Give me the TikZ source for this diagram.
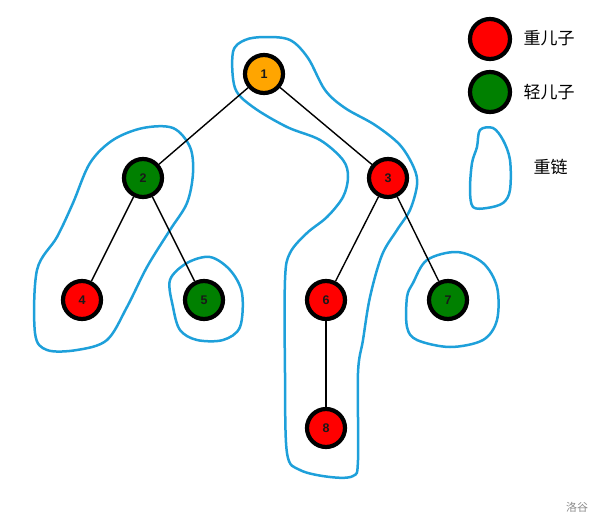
\documentclass[tikz,border=0pt]{standalone}
\usepackage{fontspec}
\setsansfont{Liberation Sans}
\newfontfamily\cjk{Noto Sans CJK SC}
\definecolor{chainblue}{RGB}{30,160,218}
\definecolor{rootorange}{RGB}{255,165,0}
\definecolor{heavyred}{RGB}{255,0,0}
\definecolor{lightgreen}{RGB}{0,128,0}
\begin{document}
\begin{tikzpicture}[x=1pt,y=-1pt,
  tnode/.style={circle,draw=black,line width=4.2pt,minimum size=38pt,inner sep=0pt,
    font=\sffamily\bfseries\fontsize{12.5}{12.5}\selectfont,text=black!90},
  heavy/.style={tnode,fill=heavyred},
  light/.style={tnode,fill=lightgreen},
  rootn/.style={tnode,fill=rootorange},
  edge/.style={line width=1.4pt,black},
  chain/.style={draw=chainblue,line width=2.5pt,line join=round},
  lbl/.style={font=\cjk\fontsize{17}{17}\selectfont,text=black}]
\useasboundingbox (0,0) rectangle (605,528);
% chains
\draw[chain] plot[smooth cycle,tension=0.55] coordinates {(233,52) (245,40) (265,37) (290,40) (308,58) (325,90) (345,108) (375,125) (400,145) (414,168) (417,185) (410,210) (397,230) (382,255) (370,297) (363,340) (358,373) (358,460) (353,476) (330,477) (300,470) (287,453) (285,373) (285,280) (290,253) (307,233) (327,217) (343,197) (348,177) (343,160) (320,140) (287,127) (253,107) (235,88)};
\draw[chain] plot[smooth cycle,tension=0.55] coordinates {(143,128) (173,128) (190,147) (193,173) (187,203) (170,230) (147,267) (127,307) (107,340) (77,350) (47,350) (35,333) (37,270) (57,237) (73,203) (90,163) (113,140)};
\draw[chain] plot[smooth cycle,tension=0.55] coordinates {(170,280) (187,263) (210,257) (230,270) (242,293) (240,327) (223,340) (197,340) (180,330) (173,307)};
\draw[chain] plot[smooth cycle,tension=0.55] coordinates {(413,283) (427,260) (457,252) (483,263) (497,287) (497,320) (483,340) (450,347) (417,340) (407,327) (407,297)};
\draw[chain] plot[smooth cycle,tension=0.55] coordinates {(480,130) (493,128) (503,140) (510,160) (510,190) (503,203) (487,208) (473,207) (470,190) (472,163) (477,147)};
% nodes
\node[rootn] (n1) at (264,74) {1};
\node[light] (n2) at (143,178) {2};
\node[heavy] (n3) at (388,178) {3};
\node[heavy] (n4) at (82,300) {4};
\node[light] (n5) at (204,300) {5};
\node[heavy] (n6) at (326,300) {6};
\node[light] (n7) at (448,300) {7};
\node[heavy] (n8) at (326,428) {8};
% edges
\draw[edge] (n1) -- (n2);
\draw[edge] (n1) -- (n3);
\draw[edge] (n2) -- (n4);
\draw[edge] (n2) -- (n5);
\draw[edge] (n3) -- (n6);
\draw[edge] (n3) -- (n7);
\draw[edge] (n6) -- (n8);
% legend
\node[heavy,minimum size=40pt] (lh) at (490,39) {};
\node[light,minimum size=40pt] (ll) at (490,92) {};
\node[lbl,anchor=west] (th) at (520,38) {重儿子};
\node[lbl,anchor=west] (tl) at (520,92) {轻儿子};
\node[lbl,anchor=west] (tc) at (530,167) {重链};
\node[font=\cjk\fontsize{11}{11}\selectfont,text=black!45] (wm) at (577,507) {洛谷};
\end{tikzpicture}
\end{document}
